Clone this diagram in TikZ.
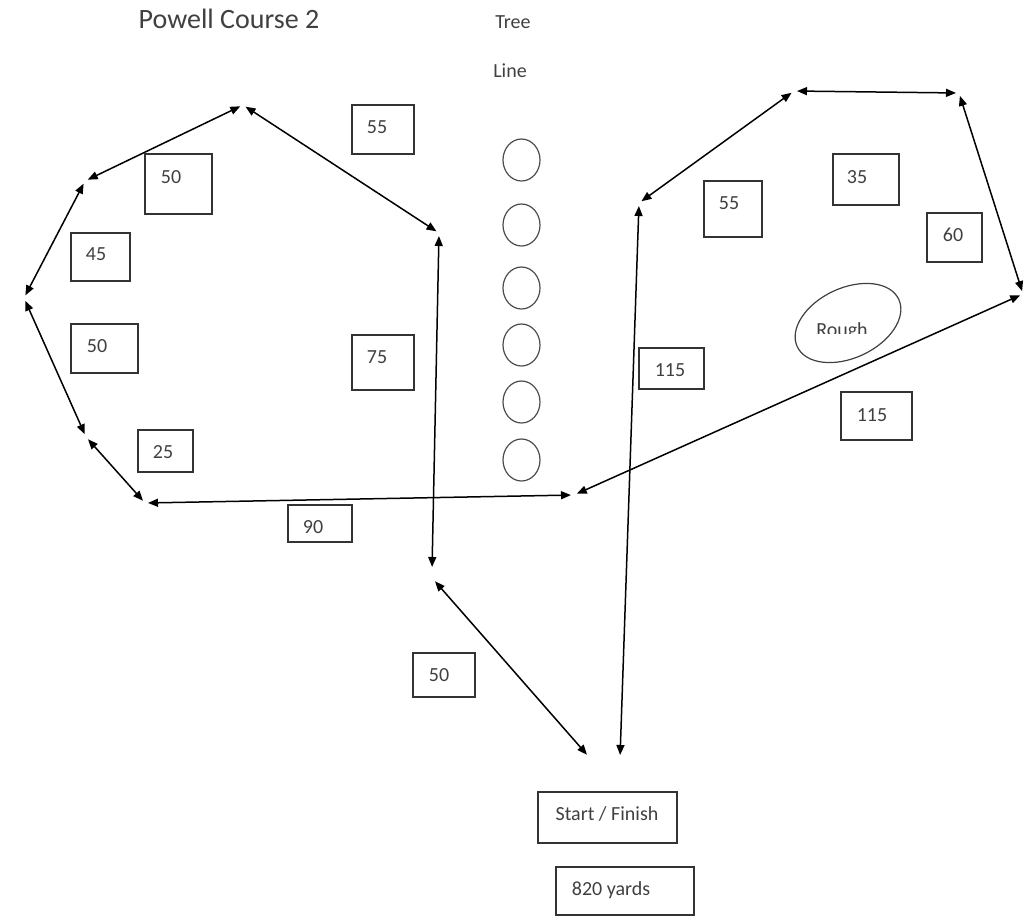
\documentclass[tikz,border=0pt]{standalone}
\usepackage{fontspec}
\setmainfont{Carlito}
\usetikzlibrary{arrows.meta,shapes.geometric}

\begin{document}
\begin{tikzpicture}[x=1pt, y=-1pt,
    leg/.style={line width=1.5pt, {Triangle[length=10pt,width=8pt]}-{Triangle[length=10pt,width=8pt]}, shorten <=3pt, shorten >=3pt},
    distbox/.style={draw=black!80, line width=1.2pt, inner sep=0pt},
    lbl/.style={anchor=base, inner sep=0pt, text=black!75, font=\fontsize{20}{24}\selectfont},
    tree/.style={draw=black!70, line width=1.2pt, ellipse, minimum width=37, minimum height=42, inner sep=0pt}]
  \useasboundingbox (0,0) rectangle (1030,916);

  \node[lbl, font=\fontsize{28}{34}\selectfont] (title) at (229,28) {Powell Course 2};
  \node[lbl] (treetxt) at (513,28) {Tree};
  \node[lbl] (linetxt) at (510,77) {Line};
  \foreach \y [count=\i] in {160,225,288,345,402,460}
    \node[tree] (tree\i) at (521.5,\y) {};

  \coordinate (t1) at (243,105);
  \coordinate (t2) at (85,181);
  \coordinate (t3) at (24,298);
  \coordinate (t4) at (86,437);
  \coordinate (t5) at (145,503);
  \coordinate (t6) at (574,495);
  \coordinate (t7) at (439,233);
  \coordinate (t8a) at (432,570);
  \coordinate (t8b) at (433,579);
  \coordinate (f1) at (589,757);
  \coordinate (f2) at (620,758);
  \coordinate (r1) at (639,203);
  \coordinate (r2) at (794,91);
  \coordinate (r3) at (959,93);
  \coordinate (r4) at (1023,294);

  \draw[leg] (t1) -- (t2);
  \draw[leg] (t2) -- (t3);
  \draw[leg] (t3) -- (t4);
  \draw[leg] (t4) -- (t5);
  \draw[leg] (t5) -- (t6);
  \draw[leg] (t1) -- (t7);
  \draw[leg] (t7) -- (t8a);
  \draw[leg] (t8b) -- (f1);
  \draw[leg] (f2) -- (r1);
  \draw[leg] (r1) -- (r2);
  \draw[leg] (r2) -- (r3);
  \draw[leg] (r3) -- (r4);
  \draw[leg] (r4) -- (t6);

  \node[distbox, minimum width=62, minimum height=49] (d55a) at (383,129.5) {};
  \node[lbl] at (377,133) {55};
  \node[distbox, minimum width=67, minimum height=60] (d50a) at (178.5,184) {};
  \node[lbl] at (171,183) {50};
  \node[distbox, minimum width=59, minimum height=48] (d45) at (100.5,257) {};
  \node[lbl] at (96,260) {45};
  \node[distbox, minimum width=67, minimum height=49] (d50b) at (104.5,348.5) {};
  \node[lbl] at (97,352) {50};
  \node[distbox, minimum width=55, minimum height=42] (d25) at (165.5,451) {};
  \node[lbl] at (163,458) {25};
  \node[distbox, minimum width=62, minimum height=55] (d75) at (383,362.5) {};
  \node[lbl] at (377,363) {75};
  \node[distbox, minimum width=64, minimum height=37] (d90) at (320,523.5) {};
  \node[lbl] at (313,533) {90};
  \node[distbox, minimum width=62, minimum height=44] (d50c) at (444,675) {};
  \node[lbl] at (439,681) {50};
  \node[distbox, minimum width=58, minimum height=56] (d55b) at (733,209) {};
  \node[lbl] at (729,209) {55};
  \node[distbox, minimum width=66, minimum height=51] (d35) at (866,179.5) {};
  \node[lbl] at (857,183) {35};
  \node[distbox, minimum width=55, minimum height=49] (d60) at (954.5,237.5) {};
  \node[lbl] at (953,241) {60};
  \node[distbox, minimum width=65, minimum height=41] (d115a) at (671.5,368.5) {};
  \node[lbl] at (670,376) {115};
  \node[distbox, minimum width=71, minimum height=48] (d115b) at (876.5,416) {};
  \node[lbl] at (872,421) {115};

  \node[draw=black!75, line width=1.2pt, ellipse, minimum width=112, minimum height=70, rotate=25] (rough) at (848,323) {};
  \begin{scope}
    \clip (800,300) rectangle (900,333);
    \node[lbl] (roughtxt) at (842,336) {Rough};
  \end{scope}

  \node[distbox, minimum width=139, minimum height=51] (start) at (607.5,817.5) {};
  \node[lbl] at (607,820) {Start / Finish};
  \node[distbox, minimum width=138, minimum height=48] (total) at (625,891) {};
  \node[lbl] at (611,895) {820 yards};
\end{tikzpicture}
\end{document}
